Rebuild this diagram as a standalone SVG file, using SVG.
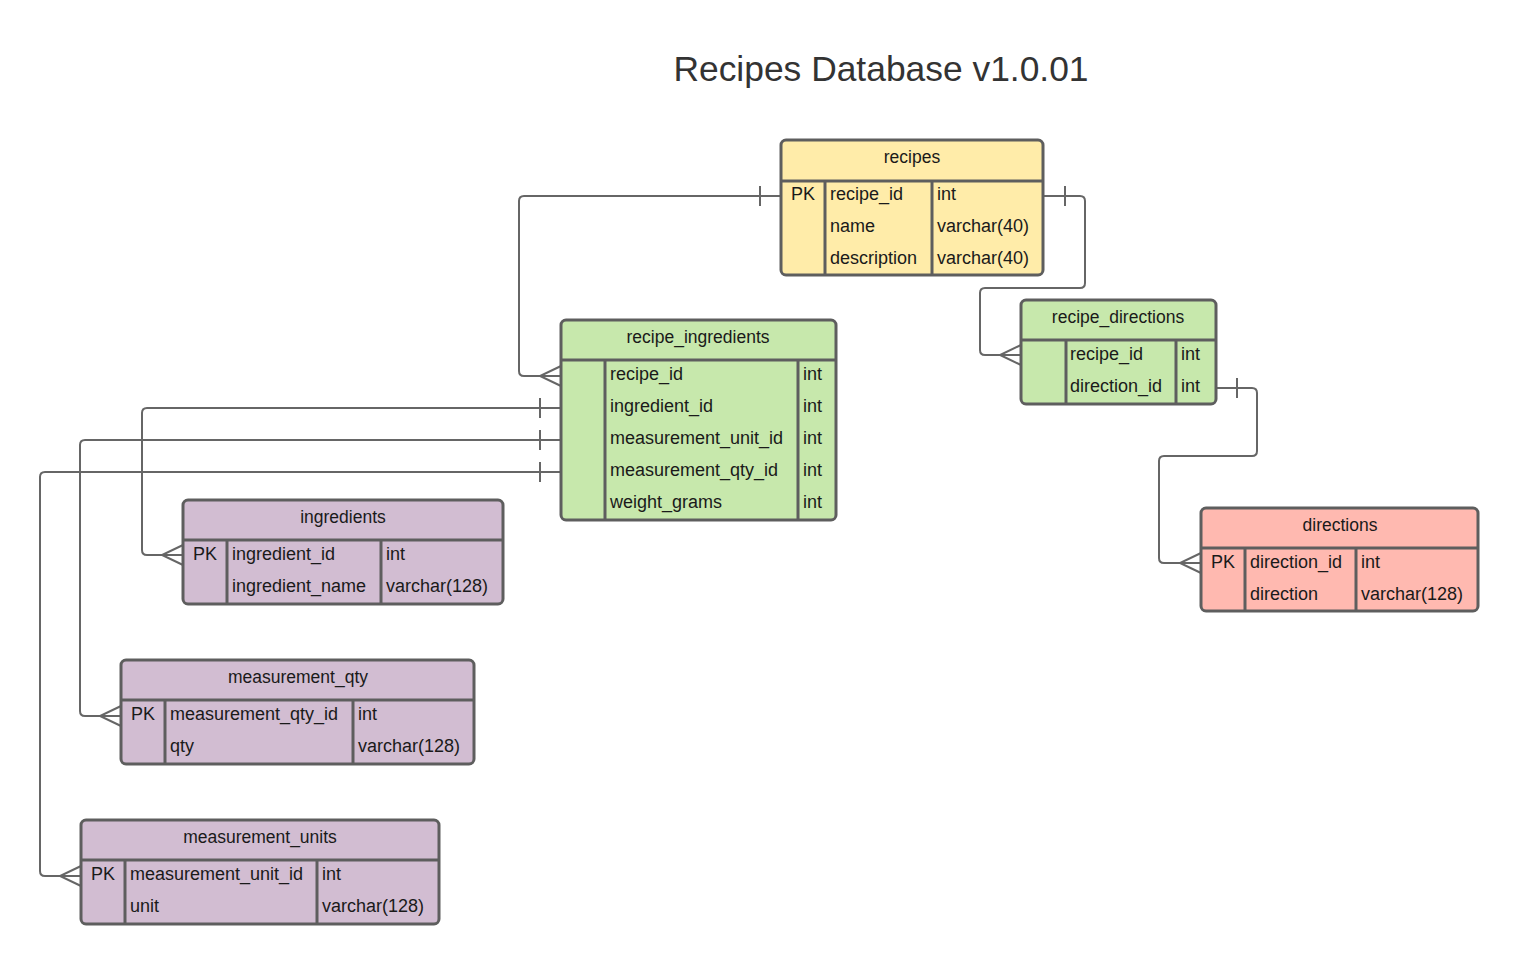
<svg xmlns="http://www.w3.org/2000/svg" width="1519" height="964" viewBox="0 0 1519 964">
<style>
.box{stroke:#5e5e5e;stroke-width:3}
.div{stroke:#5e5e5e;stroke-width:3;fill:none}
.t{font-family:"Liberation Sans",Arial,sans-serif;font-size:18px;fill:#1a1a1a}
.h{font-family:"Liberation Sans",Arial,sans-serif;font-size:17.5px;fill:#1a1a1a;text-anchor:middle}
.c{text-anchor:middle}
.conn{stroke:#666;stroke-width:2;fill:none}
.y{fill:#ffeca9}.g{fill:#c7e8ac}.p{fill:#d2bdd2}.r{fill:#ffb9b0}
</style>
<rect width="1519" height="964" fill="#fff"/>
<text x="881" y="81" font-family="'Liberation Sans',Arial,sans-serif" font-size="35.4" fill="#333" text-anchor="middle">Recipes Database v1.0.01</text>

<g id="connectors" class="conn">
<path d="M781,196 H524 Q519,196 519,201 V371 Q519,376 524,376 H561"/>
<path d="M760,186 V206"/>
<path d="M561,366 L540,376 L561,386"/>
<path d="M1043,196 H1080 Q1085,196 1085,201 V283 Q1085,288 1080,288 H985 Q980,288 980,293 V350 Q980,355 985,355 H1021"/>
<path d="M1065,186 V206"/>
<path d="M1021,345 L1000,355 L1021,365"/>
<path d="M561,408 H147 Q142,408 142,413 V550 Q142,555 147,555 H183"/>
<path d="M540,398 V418"/>
<path d="M183,545 L162,555 L183,565"/>
<path d="M561,440 H85 Q80,440 80,445 V711 Q80,716 85,716 H121"/>
<path d="M540,430 V450"/>
<path d="M121,706 L100,716 L121,726"/>
<path d="M561,472 H45 Q40,472 40,477 V871 Q40,876 45,876 H81"/>
<path d="M540,462 V482"/>
<path d="M81,866 L60,876 L81,886"/>
<path d="M1216,388 H1252 Q1257,388 1257,393 V451 Q1257,456 1252,456 H1164 Q1159,456 1159,461 V558 Q1159,563 1164,563 H1201"/>
<path d="M1237,378 V398"/>
<path d="M1201,553 L1180,563 L1201,573"/>
</g>

<g id="recipes">
<rect class="box y" x="781" y="140" width="262" height="135" rx="5"/>
<path class="div" d="M781,181 H1043 M825,181 V275 M932,181 V275"/>
<text class="h" x="912" y="163">recipes</text>
<text class="t c" x="803" y="200">PK</text>
<text class="t" x="830" y="200">recipe_id</text><text class="t" x="937" y="200">int</text>
<text class="t" x="830" y="232">name</text><text class="t" x="937" y="232">varchar(40)</text>
<text class="t" x="830" y="264">description</text><text class="t" x="937" y="264">varchar(40)</text>
</g>

<g id="recipe_ingredients">
<rect class="box g" x="561" y="320" width="275" height="200" rx="5"/>
<path class="div" d="M561,360 H836 M605,360 V520 M798,360 V520"/>
<text class="h" x="698" y="343">recipe_ingredients</text>
<text class="t" x="610" y="380">recipe_id</text><text class="t" x="803" y="380">int</text>
<text class="t" x="610" y="412">ingredient_id</text><text class="t" x="803" y="412">int</text>
<text class="t" x="610" y="444">measurement_unit_id</text><text class="t" x="803" y="444">int</text>
<text class="t" x="610" y="476">measurement_qty_id</text><text class="t" x="803" y="476">int</text>
<text class="t" x="610" y="508">weight_grams</text><text class="t" x="803" y="508">int</text>
</g>

<g id="recipe_directions">
<rect class="box g" x="1021" y="300" width="195" height="104" rx="5"/>
<path class="div" d="M1021,340 H1216 M1066,340 V404 M1176,340 V404"/>
<text class="h" x="1118" y="323">recipe_directions</text>
<text class="t" x="1070" y="360">recipe_id</text><text class="t" x="1181" y="360">int</text>
<text class="t" x="1070" y="392">direction_id</text><text class="t" x="1181" y="392">int</text>
</g>

<g id="directions">
<rect class="box r" x="1201" y="508" width="277" height="103" rx="5"/>
<path class="div" d="M1201,548 H1478 M1245,548 V611 M1356,548 V611"/>
<text class="h" x="1340" y="531">directions</text>
<text class="t c" x="1223" y="568">PK</text>
<text class="t" x="1250" y="568">direction_id</text><text class="t" x="1361" y="568">int</text>
<text class="t" x="1250" y="600">direction</text><text class="t" x="1361" y="600">varchar(128)</text>
</g>

<g id="ingredients">
<rect class="box p" x="183" y="500" width="320" height="104" rx="5"/>
<path class="div" d="M183,540 H503 M227,540 V604 M381,540 V604"/>
<text class="h" x="343" y="523">ingredients</text>
<text class="t c" x="205" y="560">PK</text>
<text class="t" x="232" y="560">ingredient_id</text><text class="t" x="386" y="560">int</text>
<text class="t" x="232" y="592">ingredient_name</text><text class="t" x="386" y="592">varchar(128)</text>
</g>

<g id="measurement_qty">
<rect class="box p" x="121" y="660" width="353" height="104" rx="5"/>
<path class="div" d="M121,700 H474 M165,700 V764 M353,700 V764"/>
<text class="h" x="298" y="683">measurement_qty</text>
<text class="t c" x="143" y="720">PK</text>
<text class="t" x="170" y="720">measurement_qty_id</text><text class="t" x="358" y="720">int</text>
<text class="t" x="170" y="752">qty</text><text class="t" x="358" y="752">varchar(128)</text>
</g>

<g id="measurement_units">
<rect class="box p" x="81" y="820" width="358" height="104" rx="5"/>
<path class="div" d="M81,860 H439 M125,860 V924 M317,860 V924"/>
<text class="h" x="260" y="843">measurement_units</text>
<text class="t c" x="103" y="880">PK</text>
<text class="t" x="130" y="880">measurement_unit_id</text><text class="t" x="322" y="880">int</text>
<text class="t" x="130" y="912">unit</text><text class="t" x="322" y="912">varchar(128)</text>
</g>
</svg>
